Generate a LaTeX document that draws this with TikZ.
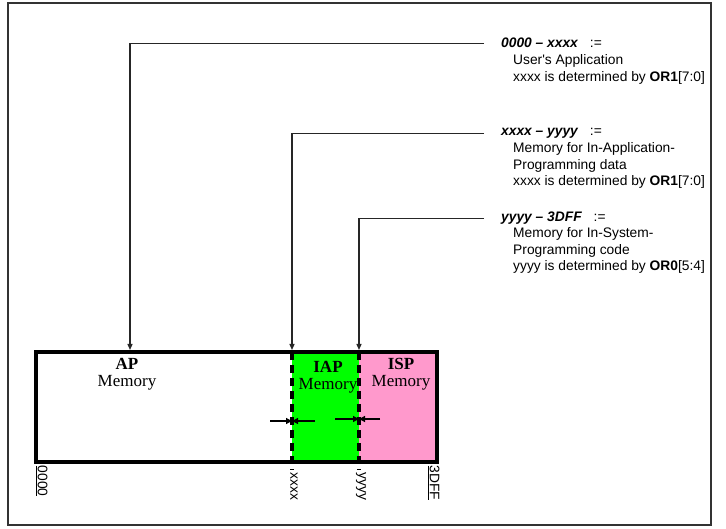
\documentclass[tikz,border=0pt]{standalone}
\usepackage{xcolor}
\usepackage{fontspec}
\usepackage{tikz}
\usetikzlibrary{arrows.meta}
\newfontfamily\arialf{Liberation Sans}
\newfontfamily\timesf{Liberation Serif}
\definecolor{iapgreen}{RGB}{0,255,0}
\definecolor{isppink}{RGB}{255,153,204}
\tikzset{
  pointer/.style={-{Triangle[length=6pt,width=5pt]},line width=1.3pt,black!85},
  marker/.style={-{Triangle[length=6pt,width=6pt]},line width=1.2pt},
  region/.style={draw=none,inner sep=0pt,minimum height=110pt,anchor=north west},
  memlbl/.style={align=center,inner sep=0pt,anchor=north,font=\timesf\fontsize{17}{17}\selectfont},
  hdr/.style={anchor=base west,inner sep=0pt,font=\arialf\fontsize{13.8}{16.5}\selectfont\bfseries\itshape},
  note/.style={anchor=north west,inner sep=0pt,align=left,font=\arialf\fontsize{13.8}{16.5}\selectfont},
  addr/.style={rotate=-90,inner sep=0.5pt,font=\arialf\fontsize{13.8}{16.5}\selectfont},
  divider/.style={line width=4pt,dash pattern=on 8pt off 5pt}
}
\begin{document}
\begin{tikzpicture}[x=1pt,y=-1pt]
 \useasboundingbox (0,0) rectangle (726,529);
 \draw[line width=1.2pt,black!80] (8,3) rectangle (711,525);

 % memory map
 \node[region,minimum width=256pt] (ap) at (36,352) {};
 \node[region,minimum width=67pt,fill=iapgreen] (iap) at (292,352) {};
 \node[region,minimum width=78pt,fill=isppink] (isp) at (359,352) {};
 \draw[line width=4pt] (ap.north west) rectangle (isp.south east);
 \draw[divider] (iap.north west) -- ([yshift=-8pt]iap.south west);
 \draw[divider] (isp.north west) -- ([yshift=-8pt]isp.south west);
 \node[memlbl] (apLbl) at (127,358) {\textbf{AP}\\Memory};
 \node[memlbl] (iapLbl) at (328,361) {\textbf{IAP}\\Memory};
 \node[memlbl] (ispLbl) at (401,358) {\textbf{ISP}\\Memory};

 % boundary markers
 \coordinate (xxL) at (270,421); \coordinate (xxR) at (315,421); \coordinate (xxM) at (292,421);
 \coordinate (yyL) at (335,419); \coordinate (yyR) at (380,419); \coordinate (yyM) at (359,419);
 \draw[marker] (xxL) -- (xxM);
 \draw[marker] (xxR) -- (xxM);
 \draw[marker] (yyL) -- (yyM);
 \draw[marker] (yyR) -- (yyM);

 % addresses
 \node[addr,anchor=south west] (a0) at (35,465) {\underline{0000}};
 \node[addr,anchor=west] (ax) at (294,472) {xxxx};
 \node[addr,anchor=west] (ay) at (361,472) {yyyy};
 \node[addr,anchor=south west] (a3) at (427,465) {\underline{3DFF}};

 % descriptions
 \node[hdr] (hdrA) at (501,48) {0000 – xxxx\hspace{12pt}\mdseries\upshape :=};
 \node[note] (noteA) at (513,54.5) {User's Application\\xxxx is determined by \textbf{OR1}[7:0]};
 \node[hdr] (hdrB) at (501,136) {xxxx – yyyy\hspace{12pt}\mdseries\upshape :=};
 \node[note] (noteB) at (513,142.5) {Memory for In-Application-\\Programming data\\xxxx is determined by \textbf{OR1}[7:0]};
 \node[hdr] (hdrC) at (501,222) {yyyy – 3DFF\hspace{12pt}\mdseries\upshape :=};
 \node[note] (noteC) at (513,227.5) {Memory for In-System-\\Programming code\\yyyy is determined by \textbf{OR0}[5:4]};

 \coordinate (tipA) at (130,350);
 \coordinate (tipB) at (292,350);
 \coordinate (tipC) at (359,350);
 \draw[pointer,shorten <=17pt] (hdrA.west) -| (tipA);
 \draw[pointer,shorten <=17pt] (hdrB.west) -| (tipB);
 \draw[pointer,shorten <=17pt] (hdrC.west) -| (tipC);
\end{tikzpicture}
\end{document}
